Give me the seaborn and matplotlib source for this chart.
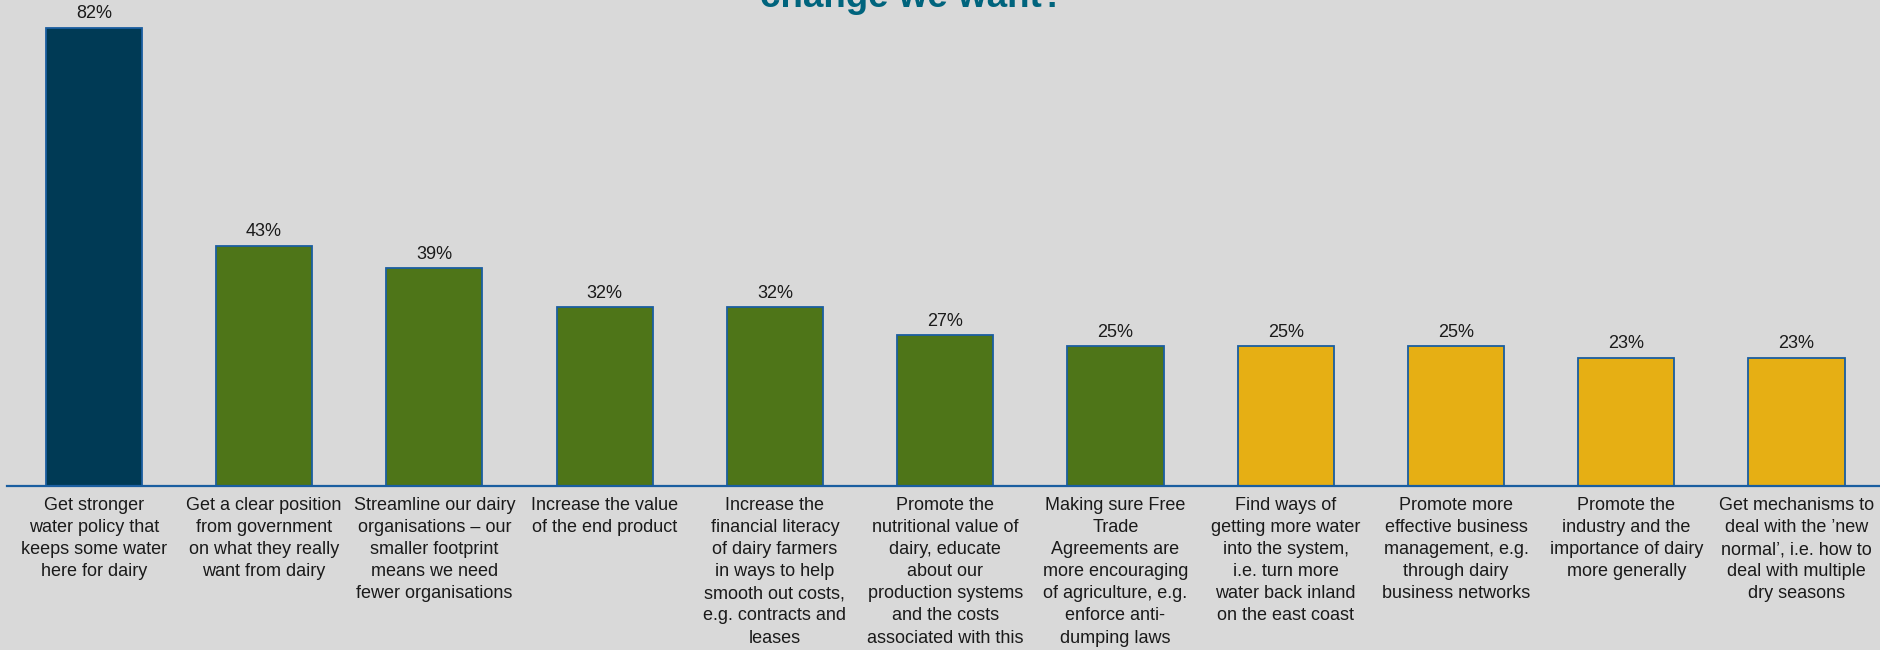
import matplotlib
matplotlib.use("Agg")
import matplotlib.pyplot as plt
import seaborn as sns
import pandas as pd

categories = [
    "Get stronger\nwater policy that\nkeeps some water\nhere for dairy",
    "Get a clear position\nfrom government\non what they really\nwant from dairy",
    "Streamline our dairy\norganisations \u2013 our\nsmaller footprint\nmeans we need\nfewer organisations",
    "Increase the value\nof the end product",
    "Increase the\nfinancial literacy\nof dairy farmers\nin ways to help\nsmooth out costs,\ne.g. contracts and\nleases",
    "Promote the\nnutritional value of\ndairy, educate\nabout our\nproduction systems\nand the costs\nassociated with this",
    "Making sure Free\nTrade\nAgreements are\nmore encouraging\nof agriculture, e.g.\nenforce anti-\ndumping laws",
    "Find ways of\ngetting more water\ninto the system,\ni.e. turn more\nwater back inland\non the east coast",
    "Promote more\neffective business\nmanagement, e.g.\nthrough dairy\nbusiness networks",
    "Promote the\nindustry and the\nimportance of dairy\nmore generally",
    "Get mechanisms to\ndeal with the \u2019new\nnormal\u2019, i.e. how to\ndeal with multiple\ndry seasons",
]
values = [82, 43, 39, 32, 32, 27, 25, 25, 25, 23, 23]
bar_colors = ["#003A55", "#4E7518", "#4E7518", "#4E7518", "#4E7518", "#4E7518",
              "#4E7518", "#E6AF14", "#E6AF14", "#E6AF14", "#E6AF14"]
title_text = "change we want?"

BG = "#D9D9D9"
EDGE = "#1A5EA0"

sns.set_theme(style="white")
plt.rcParams["font.family"] = ["Liberation Sans", "DejaVu Sans"]

df = pd.DataFrame({"cat": categories, "val": values})

fig = plt.figure(figsize=(18.8, 6.5), dpi=100, facecolor=BG)
ax = fig.add_axes([7 / 1880, 164 / 650, 1 - 7 / 1880, 486 / 650])
ax.set_facecolor(BG)

sns.barplot(data=df, x="cat", y="val", hue="cat", palette=bar_colors,
            legend=False, dodge=False, width=0.565, edgecolor=EDGE,
            linewidth=1.3, ax=ax, saturation=1)

for c in ax.containers:
    ax.bar_label(c, fmt="%.0f%%", padding=4, fontsize=13, color="#1A1A1A",
                 family=["Liberation Sans", "DejaVu Sans"])

ax.set_xlim(-0.51, 10.49)
ax.set_ylim(0, 87)
ax.set_xlabel("")
ax.set_ylabel("")
ax.set_yticks([])
for s in ["top", "right", "left"]:
    ax.spines[s].set_visible(False)
ax.spines["bottom"].set_color(EDGE)
ax.spines["bottom"].set_linewidth(1.6)
ax.tick_params(axis="x", length=0, pad=8)
ax.set_xticks(range(len(categories)))
ax.set_xticklabels(categories, fontsize=13, color="#1A1A1A", linespacing=1.39,
                   family=["Liberation Sans Narrow", "Liberation Sans", "DejaVu Sans"])

fig.text(0.485, 1 - 7 / 650, title_text, ha="center", va="baseline",
         fontsize=26.5, fontweight="bold", color="#00647D",
         family=["Liberation Sans Narrow", "Liberation Sans", "DejaVu Sans"])

fig.savefig("out.png", dpi=100, facecolor=BG)
